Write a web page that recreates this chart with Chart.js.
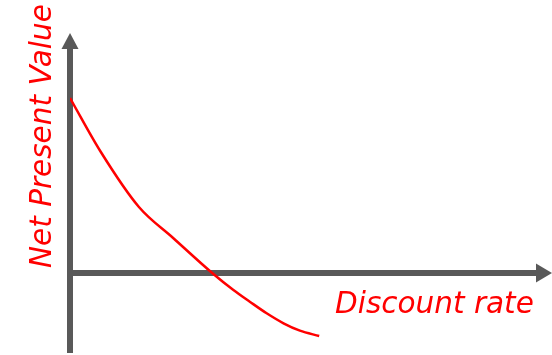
<!DOCTYPE html>
<html>
<head>
<meta charset="utf-8">
<script src="https://cdn.jsdelivr.net/npm/chart.js@4/dist/chart.umd.min.js"></script>
<style>
  html, body { margin: 0; padding: 0; background: #ffffff; }
  #wrap { width: 552px; height: 355px; position: relative; }
</style>
</head>
<body>
<div id="wrap"><canvas id="npv"></canvas></div>
<script>
// Discount rate (%) and the resulting net present value
const discountRates = [0, 6.4, 14.3, 21.4, 29.5, 33.9, 37.3, 40.8, 44.3, 47.7, 51.7];
const npvValues     = [175, 121, 66, 35, 0, -17, -28.7, -40.3, -50.3, -57.7, -63];

const xAxisTitle = 'Discount rate';
const yAxisTitle = 'Net Present Value';

const AXIS_COLOR = '#595959';
const TEXT_COLOR = '#ff0000';
const LABEL_FONT = 'italic 29.5px "DejaVu Sans", Verdana, sans-serif';

// Draws the two arrowed axes crossing at the origin, and the axis labels
const arrowAxes = {
  id: 'arrowAxes',
  beforeDatasetsDraw(chart) {
    const { ctx, chartArea, scales } = chart;
    const x0 = scales.x.getPixelForValue(0);
    const y0 = scales.y.getPixelForValue(0);
    ctx.save();
    ctx.strokeStyle = AXIS_COLOR;
    ctx.fillStyle = AXIS_COLOR;
    ctx.lineWidth = 6;
    ctx.lineCap = 'butt';

    // vertical axis
    const yTop = chartArea.top;
    ctx.beginPath();
    ctx.moveTo(x0, chartArea.bottom);
    ctx.lineTo(x0, yTop + 14);
    ctx.stroke();
    ctx.beginPath();
    ctx.moveTo(x0, yTop);
    ctx.lineTo(x0 - 8.5, yTop + 16);
    ctx.lineTo(x0 + 8.5, yTop + 16);
    ctx.closePath();
    ctx.fill();

    // horizontal axis
    const xEnd = chartArea.right;
    ctx.beginPath();
    ctx.moveTo(x0 - 3, y0);
    ctx.lineTo(xEnd - 14, y0);
    ctx.stroke();
    ctx.beginPath();
    ctx.moveTo(xEnd, y0);
    ctx.lineTo(xEnd - 16, y0 - 9.5);
    ctx.lineTo(xEnd - 16, y0 + 9.5);
    ctx.closePath();
    ctx.fill();
    ctx.restore();
  },
  afterDraw(chart) {
    const { ctx } = chart;
    ctx.save();
    ctx.fillStyle = TEXT_COLOR;
    ctx.font = LABEL_FONT;
    ctx.textBaseline = 'alphabetic';
    ctx.textAlign = 'left';
    ctx.fillText(xAxisTitle, 335, 313);

    ctx.translate(51, 268);
    ctx.rotate(-Math.PI / 2);
    ctx.fillText(yAxisTitle, 0, 0);
    ctx.restore();
  }
};

new Chart(document.getElementById('npv'), {
  type: 'line',
  data: {
    datasets: [{
      data: discountRates.map((r, i) => ({ x: r, y: npvValues[i] })),
      borderColor: '#ff0000',
      borderWidth: 2.5,
      pointRadius: 0,
      fill: false,
      cubicInterpolationMode: 'monotone'
    }]
  },
  options: {
    responsive: true,
    maintainAspectRatio: false,
    animation: false,
    devicePixelRatio: 1,
    layout: { padding: { left: 70, right: 0, top: 33, bottom: 2 } },
    plugins: {
      legend: { display: false },
      tooltip: { enabled: false },
      title: { display: false }
    },
    scales: {
      x: { type: 'linear', min: 0, max: 100, display: false },
      y: { type: 'linear', min: -80, max: 240, display: false }
    }
  },
  plugins: [arrowAxes]
});
</script>
</body>
</html>
